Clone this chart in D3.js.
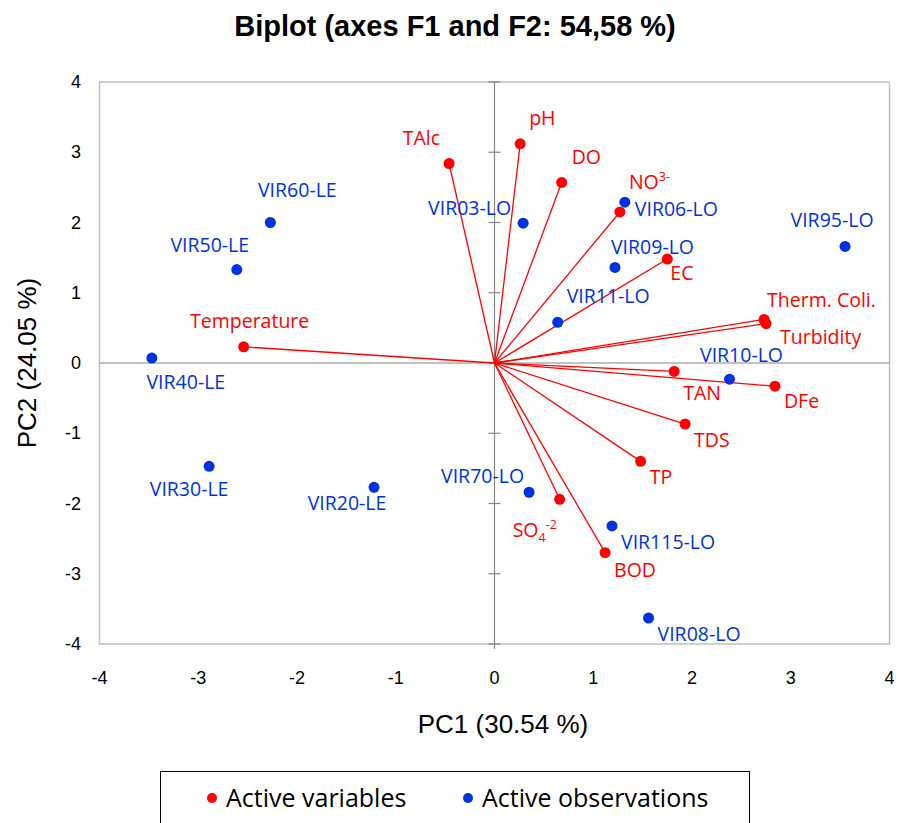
<!DOCTYPE html>
<html>
<head>
<meta charset="utf-8">
<script src="https://cdn.jsdelivr.net/npm/d3@7"></script>
<style>
  body { margin: 0; background: #fff; }
  svg { display: block; }
</style>
</head>
<body>
<svg width="907" height="823"></svg>
<script>
// Active variables (loadings scaled to the biplot)
const variables = ["TAlc", "pH", "DO", "NO3-", "EC", "Therm. Coli.", "Turbidity",
  "TAN", "DFe", "TDS", "TP", "SO4-2", "BOD", "Temperature"];
const varF1 = [-0.46, 0.26, 0.68, 1.27, 1.75, 2.73, 2.75, 1.82, 2.84, 1.93, 1.48, 0.66, 1.12, -2.54];
const varF2 = [2.84, 3.12, 2.57, 2.15, 1.48, 0.62, 0.56, -0.12, -0.33, -0.87, -1.40, -1.94, -2.70, 0.23];

// Active observations
const observations = ["VIR03-LO", "VIR06-LO", "VIR09-LO", "VIR11-LO", "VIR10-LO", "VIR70-LO",
  "VIR115-LO", "VIR08-LO", "VIR95-LO", "VIR60-LE", "VIR50-LE", "VIR40-LE", "VIR30-LE", "VIR20-LE"];
const obsF1 = [0.29, 1.32, 1.22, 0.64, 2.38, 0.35, 1.19, 1.56, 3.55, -2.27, -2.61, -3.47, -2.89, -1.22];
const obsF2 = [1.99, 2.29, 1.36, 0.58, -0.23, -1.84, -2.32, -3.63, 1.66, 2.00, 1.33, 0.07, -1.47, -1.77];

const ticks = [-4, -3, -2, -1, 0, 1, 2, 3, 4];

// label placement relative to its point: [dx, dy, anchor]
const labelPlace = {
  "TAlc": [-9, -18, "end"], "pH": [9, -19, "start"], "DO": [10, -18, "start"],
  "NO3-": [9, -23, "start"], "EC": [3, 21, "start"], "Therm. Coli.": [3, -12, "start"],
  "Turbidity": [14, 20, "start"], "TAN": [9, 29, "start"], "DFe": [9, 22, "start"],
  "TDS": [9, 23, "start"], "TP": [9, 23, "start"], "SO4-2": [-47, 38, "start"],
  "BOD": [9, 24, "start"], "Temperature": [6, -19, "middle"],
  "VIR03-LO": [-12, -8, "end"], "VIR06-LO": [10, 14, "start"], "VIR09-LO": [-4, -13, "start"],
  "VIR11-LO": [9, -19, "start"], "VIR10-LO": [12, -17, "middle"], "VIR70-LO": [-5, -9, "end"],
  "VIR115-LO": [9, 23, "start"], "VIR08-LO": [9, 23, "start"], "VIR95-LO": [-13, -19, "middle"],
  "VIR60-LE": [27, -26, "middle"], "VIR50-LE": [-27, -18, "middle"], "VIR40-LE": [34, 31, "middle"],
  "VIR30-LE": [-20, 30, "middle"], "VIR20-LE": [-27, 23, "middle"]
};

const red = "#ff0000";
const blue = "#0033e0";
const labelFont = "'Open Sans', 'Noto Sans', sans-serif";
const axisFont = "'Liberation Sans', Arial, sans-serif";

const svg = d3.select("svg");
const x = d3.scaleLinear().domain([-4, 4]).range([99.5, 889.5]);
const y = d3.scaleLinear().domain([-4, 4]).range([644, 82]);

// title
svg.append("text")
  .attr("x", 455).attr("y", 36)
  .attr("text-anchor", "middle")
  .attr("font-family", axisFont)
  .attr("font-weight", "bold")
  .attr("font-size", 29)
  .text("Biplot (axes F1 and F2: 54,58 %)");

// plot frame
svg.append("rect")
  .attr("x", x(-4)).attr("y", y(4))
  .attr("width", x(4) - x(-4)).attr("height", y(-4) - y(4))
  .attr("fill", "none").attr("stroke", "#c0c0c0").attr("stroke-width", 1.5);

// zero axes
svg.append("line")
  .attr("x1", x(-4)).attr("x2", x(4)).attr("y1", y(0)).attr("y2", y(0))
  .attr("stroke", "#868686").attr("stroke-width", 1.2);
svg.append("line")
  .attr("x1", x(0)).attr("x2", x(0)).attr("y1", y(4)).attr("y2", y(-4) + 5)
  .attr("stroke", "#868686").attr("stroke-width", 1.2);
svg.append("g")
  .selectAll("line")
  .data(ticks)
  .join("line")
  .attr("x1", x(0) - 6).attr("x2", x(0) + 6)
  .attr("y1", (d) => y(d)).attr("y2", (d) => y(d))
  .attr("stroke", "#868686").attr("stroke-width", 1.2);

// tick labels
svg.append("g")
  .selectAll("text")
  .data(ticks)
  .join("text")
  .attr("x", (d) => x(d)).attr("y", 684)
  .attr("text-anchor", "middle")
  .attr("font-family", axisFont).attr("font-size", 18)
  .text((d) => d);
svg.append("g")
  .selectAll("text")
  .data(ticks)
  .join("text")
  .attr("x", 81).attr("y", (d) => y(d) + 6)
  .attr("text-anchor", "end")
  .attr("font-family", axisFont).attr("font-size", 18)
  .text((d) => d);

// axis titles
svg.append("text")
  .attr("x", 503).attr("y", 733)
  .attr("text-anchor", "middle")
  .attr("font-family", axisFont).attr("font-size", 26)
  .text("PC1 (30.54 %)");
svg.append("text")
  .attr("transform", `translate(36, ${y(0)}) rotate(-90)`)
  .attr("text-anchor", "middle")
  .attr("font-family", axisFont).attr("font-size", 26)
  .text("PC2 (24.05 %)");

const varData = variables.map((name, i) => ({ name, f1: varF1[i], f2: varF2[i] }));
const obsData = observations.map((name, i) => ({ name, f1: obsF1[i], f2: obsF2[i] }));

// variable vectors
svg.append("g")
  .selectAll("line")
  .data(varData)
  .join("line")
  .attr("x1", x(0)).attr("y1", y(0))
  .attr("x2", (d) => x(d.f1)).attr("y2", (d) => y(d.f2))
  .attr("stroke", red).attr("stroke-width", 1.3);

function addLabel(sel, color) {
  sel.each(function (d) {
    const [dx, dy, anchor] = labelPlace[d.name];
    const t = d3.select(this)
      .attr("x", x(d.f1) + dx).attr("y", y(d.f2) + dy)
      .attr("text-anchor", anchor)
      .attr("font-family", labelFont).attr("font-size", 19.5)
      .attr("fill", color);
    if (d.name === "NO3-") {
      t.append("tspan").text("NO");
      t.append("tspan").attr("font-size", 12.5).attr("dy", -8).text("3-");
    } else if (d.name === "SO4-2") {
      t.append("tspan").text("SO");
      t.append("tspan").attr("font-size", 12.5).attr("dy", 5).text("4");
      t.append("tspan").attr("font-size", 12.5).attr("dy", -13).text("-2");
    } else {
      t.text(d.name);
    }
  });
}

// observations
svg.append("g")
  .selectAll("circle")
  .data(obsData)
  .join("circle")
  .attr("cx", (d) => x(d.f1)).attr("cy", (d) => y(d.f2))
  .attr("r", 5.5).attr("fill", blue);
svg.append("g")
  .selectAll("text")
  .data(obsData)
  .join("text")
  .call(addLabel, blue);

// variable points
svg.append("g")
  .selectAll("circle")
  .data(varData)
  .join("circle")
  .attr("cx", (d) => x(d.f1)).attr("cy", (d) => y(d.f2))
  .attr("r", 5.5).attr("fill", red);
svg.append("g")
  .selectAll("text")
  .data(varData)
  .join("text")
  .call(addLabel, red);

// legend
const legend = svg.append("g");
legend.append("rect")
  .attr("x", 160.5).attr("y", 771.5).attr("width", 589).attr("height", 80)
  .attr("fill", "none").attr("stroke", "#000").attr("stroke-width", 1);
const legendItems = [
  { label: "Active variables", color: red, x: 212 },
  { label: "Active observations", color: blue, x: 468 },
];
legend.selectAll("circle")
  .data(legendItems)
  .join("circle")
  .attr("cx", (d) => d.x).attr("cy", 798).attr("r", 5).attr("fill", (d) => d.color);
legend.selectAll("text")
  .data(legendItems)
  .join("text")
  .attr("x", (d) => d.x + 14).attr("y", 807)
  .attr("font-family", labelFont).attr("font-size", 25)
  .attr("fill", "#000")
  .text((d) => d.label);
</script>
</body>
</html>
